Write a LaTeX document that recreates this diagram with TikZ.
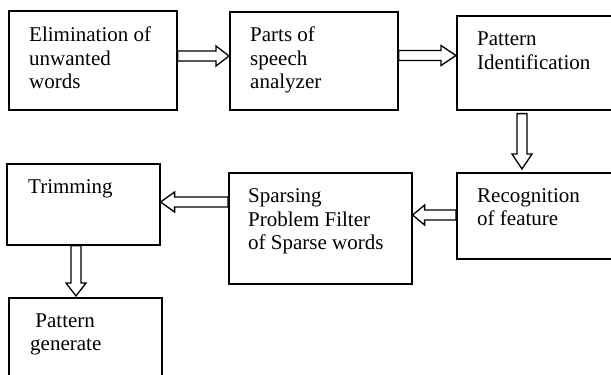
\documentclass[tikz,border=0pt]{standalone}
\usepackage{fontspec}
\setmainfont{Liberation Serif}
\usetikzlibrary{calc}
\newcommand\shaftw{5bp}
\newcommand\headw{10bp}
\newcommand\blockarrow[3][14bp]{%
  \coordinate (ba) at ($(#3)!#1!(#2)$);
  \draw[arr] ($(#2)!\shaftw!90:(#3)$) -- ($(ba)!\shaftw!90:(#3)$) -- ($(ba)!\headw!90:(#3)$) -- (#3)
    -- ($(ba)!\headw!-90:(#3)$) -- ($(ba)!\shaftw!-90:(#3)$) -- ($(#2)!\shaftw!-90:(#3)$) -- cycle;}
\begin{document}
\begin{tikzpicture}[x=1bp,y=-1bp,
  box/.style={draw=black, line width=1.6bp, fill=white},
  arr/.style={draw=black, line width=1.3bp, fill=white, line join=miter},
  txt/.style={anchor=north west, inner sep=0pt, align=left, font=\fontsize{21bp}{23.5bp}\selectfont}]
\useasboundingbox (0,0) rectangle (611,374);
\clip (0,0) rectangle (611,374);
% boxes
\node[box, inner sep=0pt, anchor=north west, minimum width=168bp, minimum height=99bp] (b1) at (8,10) {};
\node[box, inner sep=0pt, anchor=north west, minimum width=168bp, minimum height=98bp] (b2) at (229,11) {};
\node[box, inner sep=0pt, anchor=north west, minimum width=170bp, minimum height=94bp] (b3) at (456,15) {};
\node[box, inner sep=0pt, anchor=north west, minimum width=170bp, minimum height=86bp] (b4) at (456,172) {};
\node[box, inner sep=0pt, anchor=north west, minimum width=183bp, minimum height=111bp] (b5) at (228,172) {};
\node[box, inner sep=0pt, anchor=north west, minimum width=153bp, minimum height=81bp] (b6) at (6,163) {};
\node[box, inner sep=0pt, anchor=north west, minimum width=153bp, minimum height=100bp] (b7) at (8,297) {};
% texts
\node[txt] (t1) at (29,26.7) {Elimination of\\unwanted\\words};
\node[txt] (t2) at (250,26.7) {Parts of\\speech\\analyzer};
\node[txt] (t3) at (477,32) {Pattern\\Identification};
\node[txt] (t4) at (477,188) {Recognition\\of feature};
\node[txt] (t5) at (248,188.7) {Sparsing\\Problem Filter\\of Sparse words};
\node[txt] (t6) at (28,179.7) {Trimming};
\node[txt] (t7) at (30,313.1) {\hspace*{0.25em}Pattern\\generate};
% connector end points
\coordinate (a1s) at (b1.east |- 0,56);
\coordinate (a1e) at (b2.west |- 0,56);
\coordinate (a2s) at (b2.east |- 0,55.5);
\coordinate (a2e) at (b3.west |- 0,55.5);
\coordinate (a3s) at ([yshift=-3bp]b3.south -| 522,0);
\coordinate (a3e) at ([yshift=3bp]b4.north -| 522,0);
\coordinate (a4s) at (b4.west |- 0,215);
\coordinate (a4e) at (b5.east |- 0,215);
\coordinate (a5s) at (b5.west |- 0,202);
\coordinate (a5e) at (b6.east |- 0,202);
\coordinate (a6s) at (b6.south -| 76,0);
\coordinate (a6e) at ([yshift=1bp]b7.north -| 76,0);
% block arrows
\blockarrow[13bp]{a1s}{a1e}
\blockarrow[15bp]{a2s}{a2e}
\blockarrow[15bp]{a3s}{a3e}
\blockarrow[12bp]{a4s}{a4e}
\blockarrow[14bp]{a5s}{a5e}
\blockarrow[13bp]{a6s}{a6e}
\end{tikzpicture}
\end{document}
